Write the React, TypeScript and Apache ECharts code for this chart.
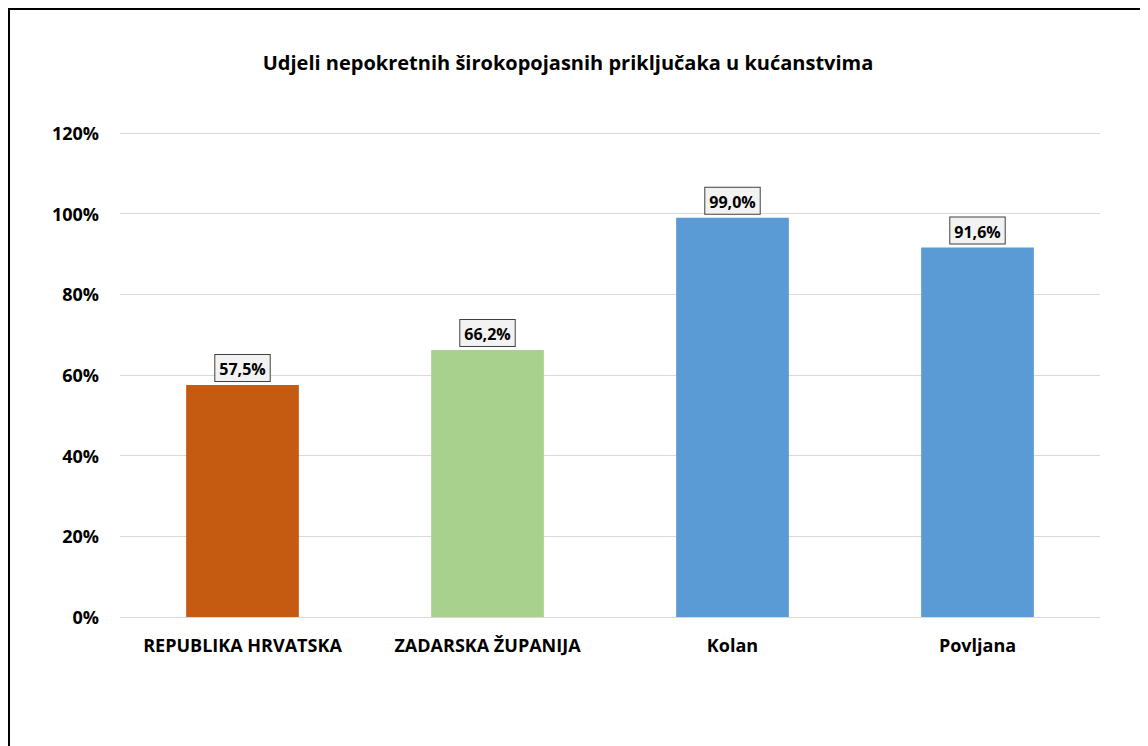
import React, { useEffect, useRef } from "react";
import * as echarts from "echarts";

const categories = ["REPUBLIKA HRVATSKA", "ZADARSKA ŽUPANIJA", "Kolan", "Povljana"];
const values = [57.5, 66.2, 99.0, 91.6];
const barColors = ["#C55A11", "#A9D18E", "#5B9BD5", "#5B9BD5"];
const titleText = "Udjeli nepokretnih širokopojasnih priključaka u kućanstvima";

const FONT = "'Open Sans', 'Liberation Sans', sans-serif";

export default function App() {
  const ref = useRef<HTMLDivElement>(null);
  useEffect(() => {
    if (!ref.current) return;
    const chart = echarts.init(ref.current, null, { renderer: "svg" });
    chart.setOption({
      animation: false,
      backgroundColor: "#ffffff",
      graphic: [
        {
          type: "text",
          x: 558,
          y: 52,
          style: {
            text: titleText,
            fontFamily: FONT,
            fontWeight: "bold",
            fontSize: 20,
            fill: "#000000",
            textAlign: "center",
            textVerticalAlign: "middle",
          },
        },
      ],
      grid: { left: 110, right: 48, top: 123, bottom: 129 },
      xAxis: {
        type: "category",
        data: categories,
        axisLine: { show: true, lineStyle: { color: "#d9d9d9", width: 1 } },
        axisTick: { show: false },
        axisLabel: {
          interval: 0,
          hideOverlap: false,
          color: "#000000",
          fontFamily: FONT,
          fontWeight: "bold",
          fontSize: 18,
          margin: 19,
        },
      },
      yAxis: {
        type: "value",
        min: 0,
        max: 120,
        interval: 20,
        axisLine: { show: false },
        axisTick: { show: false },
        splitLine: { lineStyle: { color: "#d9d9d9", width: 1 } },
        axisLabel: {
          color: "#000000",
          fontFamily: FONT,
          fontWeight: "bold",
          fontSize: 18,
          margin: 21,
          formatter: (v: number) => v + "%",
        },
      },
      series: [
        {
          type: "bar",
          barWidth: "46%",
          data: values.map((v, i) => ({ value: v, itemStyle: { color: barColors[i] } })),
          label: {
            show: true,
            position: "top",
            distance: 4,
            formatter: (p: any) => p.value.toFixed(1).replace(".", ",") + "%",
            color: "#000000",
            fontFamily: FONT,
            fontWeight: "bold",
            fontSize: 16,
            lineHeight: 20,
            backgroundColor: "#f2f2f2",
            borderColor: "#404040",
            borderWidth: 1,
            padding: [4, 4, 2, 4],
          },
        },
      ],
    });
    return () => chart.dispose();
  }, []);
  return (
    <div
      style={{
        width: 1140,
        height: 738,
        borderLeft: "2px solid #000",
        borderTop: "2px solid #000",
        boxSizing: "border-box",
        background: "#fff",
      }}
    >
      <div ref={ref} style={{ width: 1138, height: 736 }} />
    </div>
  );
}
